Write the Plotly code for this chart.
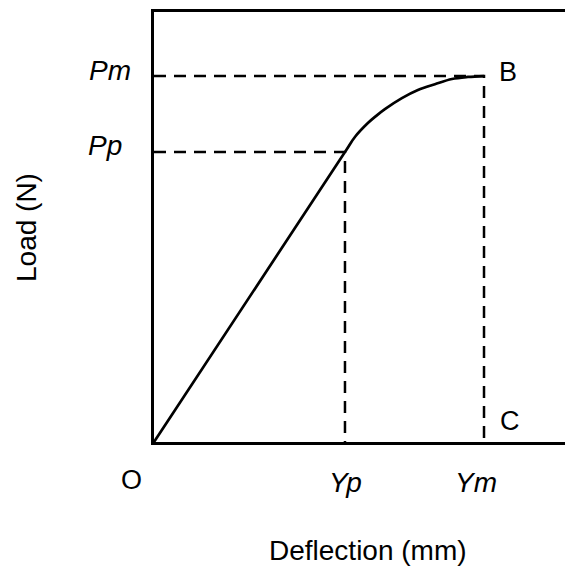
import plotly.graph_objects as go

# Data (arbitrary units)
Yp = 1.0
Ym = 1.728
Pp = 1.0
Pm = 1.262
x_max = 2.194
y_max = 1.483

curve_x = [0.0, 1.0, 1.052, 1.120, 1.162, 1.209, 1.298, 1.382, 1.471, 1.560, 1.644, 1.728]
curve_y = [0.0, 1.0, 1.052, 1.100, 1.124, 1.148, 1.186, 1.214, 1.234, 1.252, 1.259, 1.262]

tick_labels_x = ["O", "Yp", "Ym"]
tick_labels_y = ["Pp", "Pm"]
point_labels = ["B", "C"]
x_title = "Deflection (mm)"
y_title = "Load (N)"

FONT = "Liberation Sans, Arial, sans-serif"
dash_style = dict(color="black", width=2.5, dash="12px,8px")


def f(size):
    return dict(size=size, family=FONT, color="black")


fig = go.Figure()

fig.add_trace(go.Scatter(x=[0, Yp, Yp], y=[Pp, Pp, 0], mode="lines", line=dash_style, hoverinfo="skip"))
fig.add_trace(go.Scatter(x=[0, Ym, Ym], y=[Pm, Pm, 0], mode="lines", line=dash_style, hoverinfo="skip"))
fig.add_trace(go.Scatter(x=curve_x, y=curve_y, mode="lines",
                         line=dict(color="black", width=2.7, shape="spline", smoothing=1.0),
                         hoverinfo="skip"))

ann = []
ann.append(dict(x=0, y=Pm, xref="x", yref="y", text=f"<i>{tick_labels_y[1]}</i>", showarrow=False,
                xanchor="center", yanchor="middle", xshift=-44, yshift=6, font=f(28)))
ann.append(dict(x=0, y=Pp, xref="x", yref="y", text=f"<i>{tick_labels_y[0]}</i>", showarrow=False,
                xanchor="center", yanchor="middle", xshift=-49, yshift=7, font=f(28)))
ann.append(dict(x=0, y=0, xref="x", yref="y", text=tick_labels_x[0], showarrow=False,
                xanchor="center", yanchor="middle", xshift=-23, yshift=-38, font=f(27)))
ann.append(dict(x=Yp, y=0, xref="x", yref="y", text=f"<i>{tick_labels_x[1]}</i>", showarrow=False,
                xanchor="center", yanchor="middle", xshift=1, yshift=-40, font=f(28)))
ann.append(dict(x=Ym, y=0, xref="x", yref="y", text=f"<i>{tick_labels_x[2]}</i>", showarrow=False,
                xanchor="center", yanchor="middle", xshift=-8, yshift=-40, font=f(28)))
ann.append(dict(x=Ym, y=Pm, xref="x", yref="y", text=point_labels[0], showarrow=False,
                xanchor="center", yanchor="middle", xshift=24, yshift=4, font=f(27)))
ann.append(dict(x=Ym, y=0, xref="x", yref="y", text=point_labels[1], showarrow=False,
                xanchor="center", yanchor="middle", xshift=26, yshift=21, font=f(27)))
ann.append(dict(x=0.5, y=0, xref="paper", yref="paper", text=x_title, showarrow=False,
                xanchor="center", yanchor="middle", xshift=4, yshift=-108, font=f(28)))
ann.append(dict(x=0, y=0.5, xref="paper", yref="paper", text=y_title, showarrow=False,
                xanchor="center", yanchor="middle", xshift=-128, yshift=-1, textangle=-90,
                font=f(28)))

fig.update_layout(
    width=565, height=563,
    margin=dict(l=146, r=0, t=4, b=129),
    paper_bgcolor="white", plot_bgcolor="white",
    showlegend=False,
    annotations=ann,
    xaxis=dict(range=[0, x_max], showline=True, mirror=True, linecolor="black", linewidth=3,
               showgrid=False, zeroline=False, showticklabels=False, ticks=""),
    yaxis=dict(range=[0, y_max], showline=True, mirror=False, linecolor="black", linewidth=3,
               showgrid=False, zeroline=False, showticklabels=False, ticks=""),
)

fig.write_html("out.html")
